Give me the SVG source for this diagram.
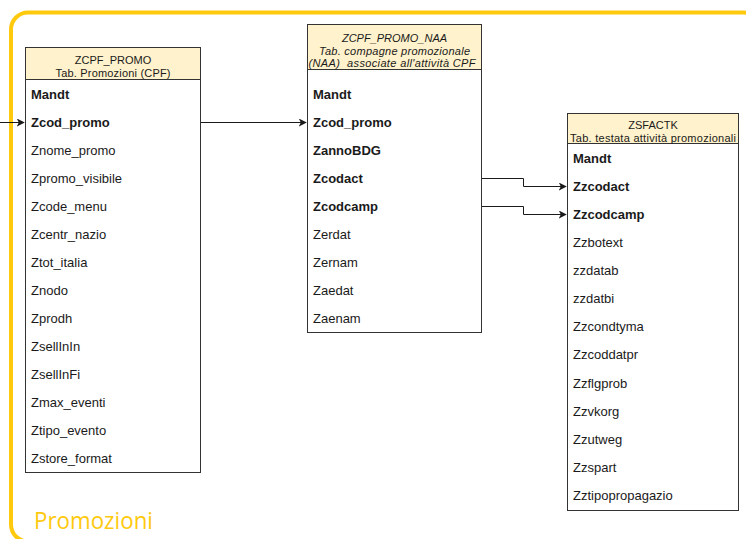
<svg xmlns="http://www.w3.org/2000/svg" width="746" height="539" viewBox="0 0 746 539">
  <style>
    .frame { fill: none; stroke: #ffc90e; stroke-width: 4; }
    .group-label { font-family: "Open Sans", "Liberation Sans", sans-serif; font-size: 23px; fill: #ffc90e; }
    .tbl { fill: #ffffff; stroke: #333333; stroke-width: 1; }
    .hdr { fill: #fff2cc; stroke: #333333; stroke-width: 1; }
    .htxt { font-family: "Liberation Sans", Arial, sans-serif; font-size: 11px; fill: #1a1a1a; text-anchor: middle; }
    .it { font-style: italic; }
    .row { font-family: "Liberation Sans", Arial, sans-serif; font-size: 13px; fill: #1a1a1a; }
    .key { font-weight: bold; }
    .link { fill: none; stroke: #1a1a1a; stroke-width: 1; }
  </style>
  <defs>
    <marker id="arrow" viewBox="0 0 10 10" refX="9" refY="5" markerWidth="8" markerHeight="8" markerUnits="userSpaceOnUse" orient="auto">
      <path d="M0,0 L10,5 L0,10 L2.5,5 Z" fill="#1a1a1a"/>
    </marker>
  </defs>

  <!-- container frame -->
  <g id="area-promozioni">
    <rect class="frame" x="11" y="12.5" width="749" height="529" rx="17" ry="17"/>
    <text class="group-label" x="34" y="529" textLength="119" lengthAdjust="spacingAndGlyphs">Promozioni</text>
  </g>

  <!-- connectors -->
  <g id="connectors">
    <path class="link" d="M0,122.5 H24" marker-end="url(#arrow)"/>
    <path class="link" d="M201,122.5 H306" marker-end="url(#arrow)"/>
    <path class="link" d="M482,178.5 H523.5 V186.5 H566" marker-end="url(#arrow)"/>
    <path class="link" d="M482,206.5 H523.5 V214.5 H566" marker-end="url(#arrow)"/>
  </g>

  <!-- ZCPF_PROMO -->
  <g id="zcpf-promo">
    <rect class="tbl" x="25.5" y="47.5" width="175" height="425"/>
    <rect class="hdr" x="25.5" y="47.5" width="175" height="32"/>
    <text class="htxt" x="113" y="64">ZCPF_PROMO</text>
    <text class="htxt" x="113" y="76.5" textLength="115" lengthAdjust="spacing">Tab. Promozioni (CPF)</text>
    <text class="row key" x="31" y="99">Mandt</text>
    <text class="row key" x="31" y="127">Zcod_promo</text>
    <text class="row" x="31" y="155">Znome_promo</text>
    <text class="row" x="31" y="183">Zpromo_visibile</text>
    <text class="row" x="31" y="211">Zcode_menu</text>
    <text class="row" x="31" y="239">Zcentr_nazio</text>
    <text class="row" x="31" y="267">Ztot_italia</text>
    <text class="row" x="31" y="295">Znodo</text>
    <text class="row" x="31" y="323">Zprodh</text>
    <text class="row" x="31" y="351">ZsellInIn</text>
    <text class="row" x="31" y="379">ZsellInFi</text>
    <text class="row" x="31" y="407">Zmax_eventi</text>
    <text class="row" x="31" y="435">Ztipo_evento</text>
    <text class="row" x="31" y="463">Zstore_format</text>
  </g>

  <!-- ZCPF_PROMO_NAA -->
  <g id="zcpf-promo-naa">
    <rect class="tbl" x="307.5" y="24.5" width="174" height="308"/>
    <rect class="hdr" x="307.5" y="24.5" width="174" height="45"/>
    <text class="htxt it" x="394.5" y="42">ZCPF_PROMO_NAA</text>
    <text class="htxt it" x="394.5" y="55" textLength="151" lengthAdjust="spacing">Tab. compagne promozionale</text>
    <text class="htxt it" x="392" y="67" textLength="167" lengthAdjust="spacing" xml:space="preserve">(NAA)  associate all'attività CPF</text>
    <text class="row key" x="313" y="99">Mandt</text>
    <text class="row key" x="313" y="127">Zcod_promo</text>
    <text class="row key" x="313" y="155">ZannoBDG</text>
    <text class="row key" x="313" y="183">Zcodact</text>
    <text class="row key" x="313" y="211">Zcodcamp</text>
    <text class="row" x="313" y="239">Zerdat</text>
    <text class="row" x="313" y="267">Zernam</text>
    <text class="row" x="313" y="295">Zaedat</text>
    <text class="row" x="313" y="323">Zaenam</text>
  </g>

  <!-- ZSFACTK -->
  <g id="zsfactk">
    <rect class="tbl" x="567.5" y="113.5" width="171" height="397"/>
    <rect class="hdr" x="567.5" y="113.5" width="171" height="30"/>
    <text class="htxt" x="653" y="129">ZSFACTK</text>
    <text class="htxt" x="653" y="141.5" textLength="166" lengthAdjust="spacing">Tab. testata attività promozionali</text>
    <text class="row key" x="573" y="163">Mandt</text>
    <text class="row key" x="573" y="191">Zzcodact</text>
    <text class="row key" x="573" y="219">Zzcodcamp</text>
    <text class="row" x="573" y="247">Zzbotext</text>
    <text class="row" x="573" y="275">zzdatab</text>
    <text class="row" x="573" y="303">zzdatbi</text>
    <text class="row" x="573" y="331">Zzcondtyma</text>
    <text class="row" x="573" y="359">Zzcoddatpr</text>
    <text class="row" x="573" y="388">Zzflgprob</text>
    <text class="row" x="573" y="416">Zzvkorg</text>
    <text class="row" x="573" y="444">Zzutweg</text>
    <text class="row" x="573" y="472">Zzspart</text>
    <text class="row" x="573" y="500">Zztipopropagazio</text>
  </g>
</svg>
